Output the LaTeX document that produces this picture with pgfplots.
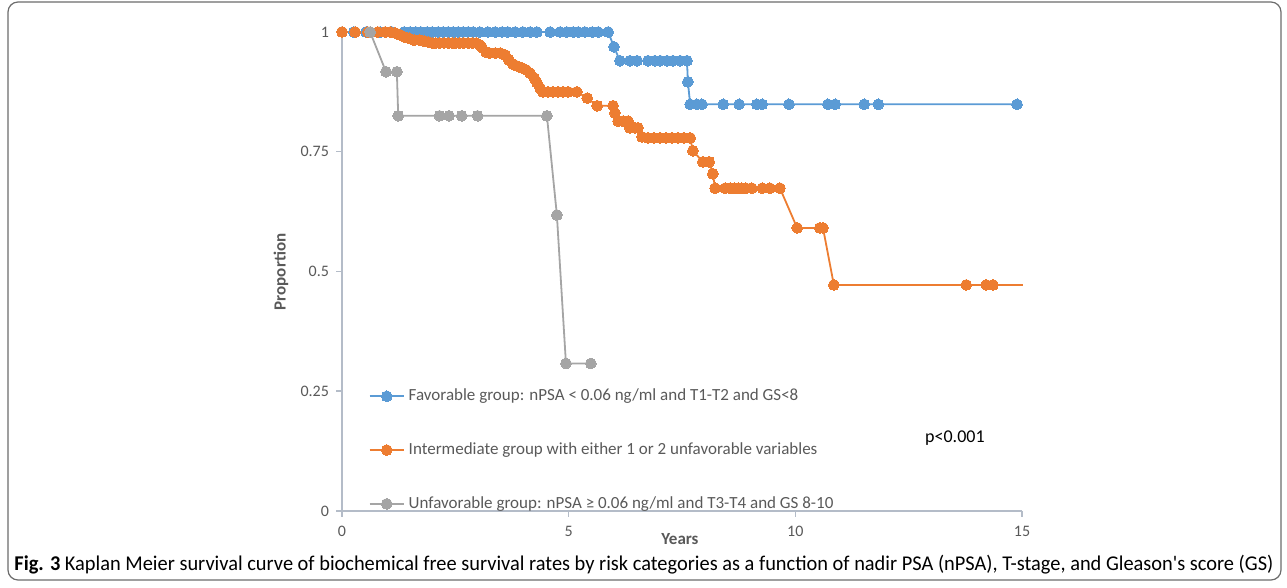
\documentclass[border=0pt]{standalone}
\usepackage{fontspec}
\setmainfont{Carlito}
\usepackage{pgfplots}
\usepackage{pgfplotstable}
\pgfplotsset{compat=1.18}
\definecolor{kmblue}{HTML}{5B9BD5}
\definecolor{kmorange}{HTML}{ED7D31}
\definecolor{kmgray}{HTML}{A5A5A5}
\definecolor{axisgray}{HTML}{B4BCC8}
\definecolor{textgray}{HTML}{595959}

\pgfplotstableread{
x y
0 1
0.26 1
0.53 1
0.84 1
1.10 1
1.37 1
1.50 1
1.63 1
1.74 1
1.88 1
1.99 1
2.12 1
2.23 1
2.34 1
2.45 1
2.56 1
2.67 1
2.78 1
2.89 1
3.04 1
3.22 1
3.38 1
3.53 1
3.66 1
3.82 1
3.99 1
4.15 1
4.30 1
4.59 1
4.81 1
4.96 1
5.10 1
5.21 1
5.36 1
5.52 1
5.65 1
5.87 1
6.00 0.969
6.13 0.940
6.35 0.940
6.51 0.940
6.75 0.940
6.90 0.940
7.02 0.940
7.17 0.940
7.30 0.940
7.46 0.940
7.61 0.940
7.63 0.896
7.68 0.849
7.83 0.849
7.94 0.849
8.41 0.849
8.76 0.849
9.15 0.849
9.27 0.849
9.86 0.849
10.72 0.849
10.88 0.849
11.52 0.849
11.83 0.849
14.89 0.849
}\favorable

\pgfplotstableread{
x y
0 1
0.29 1
0.57 1
0.79 1
0.95 1
1.06 1
1.17 0.998
1.28 0.994
1.37 0.990
1.48 0.987
1.59 0.983
1.72 0.983
1.81 0.981
1.90 0.979
1.99 0.977
2.07 0.977
2.16 0.977
2.25 0.977
2.34 0.977
2.43 0.977
2.51 0.977
2.60 0.977
2.69 0.977
2.78 0.977
2.87 0.977
2.96 0.977
3.04 0.973
3.09 0.967
3.18 0.958
3.26 0.956
3.38 0.956
3.49 0.956
3.60 0.952
3.68 0.942
3.77 0.933
3.86 0.929
3.97 0.925
4.06 0.921
4.15 0.914
4.24 0.904
4.30 0.894
4.37 0.883
4.43 0.875
4.54 0.875
4.65 0.875
4.77 0.875
4.88 0.875
4.99 0.875
5.18 0.875
5.41 0.862
5.63 0.846
5.98 0.846
6.02 0.831
6.09 0.814
6.20 0.814
6.31 0.814
6.35 0.800
6.46 0.800
6.53 0.800
6.62 0.781
6.75 0.779
6.88 0.779
7.02 0.779
7.15 0.779
7.28 0.779
7.41 0.779
7.54 0.779
7.68 0.779
7.74 0.752
7.96 0.729
8.10 0.729
8.18 0.704
8.23 0.674
8.45 0.674
8.56 0.674
8.65 0.674
8.74 0.674
8.82 0.674
8.91 0.674
9.04 0.674
9.27 0.674
9.44 0.674
9.66 0.674
10.04 0.591
10.54 0.591
10.61 0.591
10.85 0.472
13.77 0.472
14.21 0.472
14.36 0.472
}\intermediate

\pgfplotstableread{
x y
0.62 1
0.97 0.917
1.21 0.917
1.24 0.825
2.15 0.825
2.36 0.825
2.64 0.825
2.99 0.825
4.52 0.825
4.74 0.618
4.94 0.308
5.49 0.308
}\unfavorable

\begin{document}
\begin{tikzpicture}
\path[use as bounding box] (0,0) rectangle (643.5pt,294pt);
\draw[gray!85!black, line width=0.6pt, rounded corners=5pt] (4pt,4pt) rectangle (640.5pt,293pt);
\begin{axis}[
  at={(171pt,38.5pt)}, anchor=south west,
  scale only axis, width=340pt, height=239.5pt,
  xmin=0, xmax=15, ymin=0, ymax=1,
  axis lines*=left,
  axis line style={axisgray, line width=0.75pt},
  tick style={axisgray, line width=0.75pt},
  tick align=outside, major tick length=3pt,
  xtick={0,5,10,15}, ytick={0,0.25,0.5,0.75,1},
  ticklabel style={font=\fontsize{8}{9}\selectfont, text=textgray},
  xticklabel style={yshift=-1pt},
  /pgf/number format/assume math mode=true,
  clip=false,
  legend style={draw=none, fill=none, at={(0.03,0.2725)}, anchor=north west,
    row sep=15.5pt, font=\fontsize{8.5}{10}\selectfont, text=textgray,
    cells={anchor=west}},
  legend cell align=left,
]
\addplot[kmblue, line width=0.9pt, mark=*, mark size=2.7pt, mark options={fill=kmblue, draw=kmblue, line width=0pt}] table[x=x,y=y] {\favorable};
\addlegendentry{Favorable group: nPSA < 0.06 ng/ml and T1-T2 and GS<8}
\addplot[kmorange, line width=0.9pt, mark=*, mark size=2.7pt, mark options={fill=kmorange, draw=kmorange, line width=0pt}] table[x=x,y=y] {\intermediate};
\addlegendentry{Intermediate group with either 1 or 2 unfavorable variables}
\addplot[kmgray, line width=0.9pt, mark=*, mark size=2.7pt, mark options={fill=kmgray, draw=kmgray, line width=0pt}] table[x=x,y=y] {\unfavorable};
\addlegendentry{Unfavorable group: nPSA ≥ 0.06 ng/ml and T3-T4 and GS 8-10}
\addplot[kmorange, line width=0.9pt, no marks, forget plot] coordinates {(14.36,0.472) (15.03,0.472)};
\node[anchor=center, font=\fontsize{9}{10}\selectfont, text=black] at (axis cs:13.52,0.152) {p<0.001};
\end{axis}
\node[rotate=90, font=\bfseries\fontsize{8.5}{10}\selectfont, text=textgray] at (140.5pt,158pt) {Proportion};
\node[font=\bfseries\fontsize{8.5}{10}\selectfont, text=textgray] at (340pt,24.5pt) {Years};
\node[anchor=west, inner sep=0pt] at (7pt,11.5pt) {\resizebox{629.5pt}{\height}{\fontsize{10.5}{12}\selectfont\textbf{Fig. 3} Kaplan Meier survival curve of biochemical free survival rates by risk categories as a function of nadir PSA (nPSA), T-stage, and Gleason\textquotesingle s score (GS)}};
\end{tikzpicture}
\end{document}
